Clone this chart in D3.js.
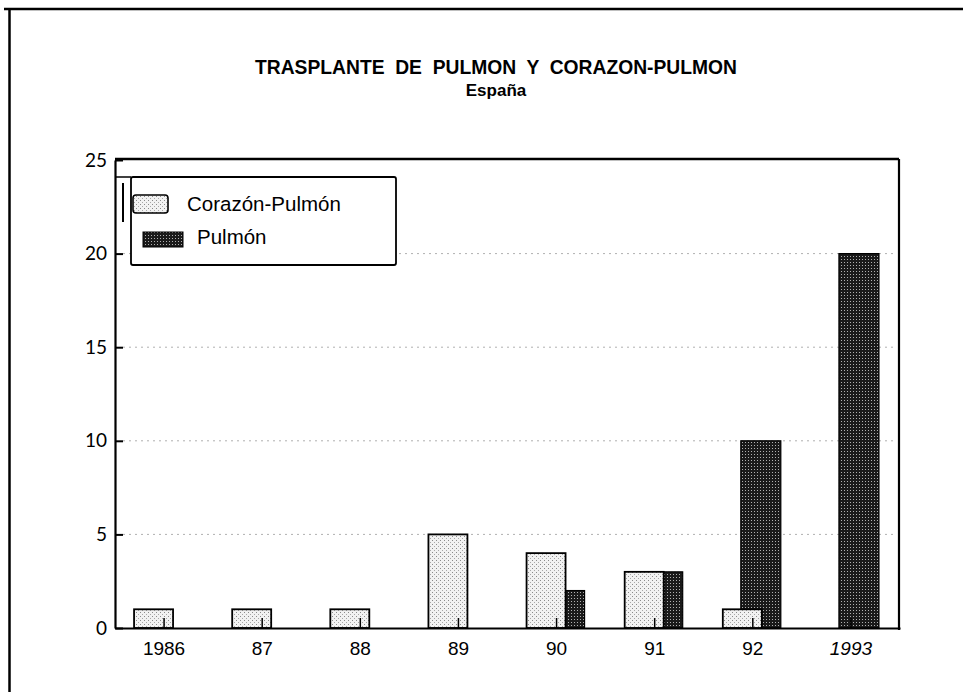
<!DOCTYPE html>
<html>
<head>
<meta charset="utf-8">
<script src="https://cdn.jsdelivr.net/npm/d3@7/dist/d3.min.js"></script>
<style>
  body { margin: 0; background: #fff; }
  svg { display: block; }
</style>
</head>
<body>
<svg width="963" height="692"></svg>
<script>
// chart data
var years = ['1986', '87', '88', '89', '90', '91', '92', '1993'];
var corazonPulmon = [1, 1, 1, 5, 4, 3, 1, 0];
var pulmon = [0, 0, 0, 0, 2, 3, 10, 20];
var yTicks = [0, 5, 10, 15, 20, 25];
var seriesNames = ['Corazón-Pulmón', 'Pulmón'];

var svg = d3.select('svg');

var plot = { l: 115, r: 900, t: 160, b: 628 };

// stipple patterns for the two series
var defs = svg.append('defs');
var light = defs.append('pattern')
    .attr('id', 'lightDots')
    .attr('width', 4).attr('height', 4)
    .attr('patternUnits', 'userSpaceOnUse');
light.append('rect').attr('width', 4).attr('height', 4).attr('fill', '#f2f2f2');
light.append('rect').attr('x', 0).attr('y', 0).attr('width', 1).attr('height', 1).attr('fill', '#8a8a8a');
light.append('rect').attr('x', 2).attr('y', 2).attr('width', 1).attr('height', 1).attr('fill', '#a8a8a8');

var dark = defs.append('pattern')
    .attr('id', 'darkDots')
    .attr('width', 3).attr('height', 3)
    .attr('patternUnits', 'userSpaceOnUse');
dark.append('rect').attr('width', 3).attr('height', 3).attr('fill', '#1a1a1a');
dark.append('rect').attr('x', 1).attr('y', 1).attr('width', 1).attr('height', 1).attr('fill', '#b0b0b0');

// page frame (top and left edge of the scanned page)
svg.append('line').attr('x1', 4).attr('x2', 963).attr('y1', 9).attr('y2', 9)
    .attr('stroke', '#000').attr('stroke-width', 2.5);
svg.append('line').attr('x1', 9.5).attr('x2', 9.5).attr('y1', 9).attr('y2', 692)
    .attr('stroke', '#000').attr('stroke-width', 2.5);

// titles
svg.append('text')
    .attr('x', 496).attr('y', 74)
    .attr('text-anchor', 'middle')
    .attr('textLength', 482)
    .attr('lengthAdjust', 'spacingAndGlyphs')
    .style('white-space', 'pre')
    .style('font-family', '"Liberation Sans", Arial, sans-serif')
    .style('font-weight', 'bold')
    .style('font-size', '20px')
    .text('TRASPLANTE  DE  PULMON  Y  CORAZON-PULMON');

svg.append('text')
    .attr('x', 496).attr('y', 96)
    .attr('text-anchor', 'middle')
    .style('font-family', '"Liberation Sans", Arial, sans-serif')
    .style('font-weight', 'bold')
    .style('font-size', '17px')
    .text('España');

// scales
var x = d3.scaleBand().domain(years).range([plot.l, plot.r]);
var y = d3.scaleLinear().domain([0, 25]).range([plot.b, plot.t]);
var bw = x.bandwidth();

// faint dotted grid
svg.append('g').selectAll('line')
    .data(yTicks.filter(function(d) { return d > 0 && d < 25; }))
    .enter().append('line')
    .attr('x1', plot.l + 8).attr('x2', plot.r - 4)
    .attr('y1', function(d) { return y(d); })
    .attr('y2', function(d) { return y(d); })
    .attr('stroke', '#b0b0b0')
    .attr('stroke-width', 1)
    .attr('stroke-dasharray', '2,4');

var rows = years.map(function(yr, i) {
    return { year: yr, cp: corazonPulmon[i], p: pulmon[i] };
});

// Pulmón bars (drawn first, light bars overlap them)
svg.append('g').selectAll('rect')
    .data(rows.filter(function(d) { return d.p > 0; }))
    .enter().append('rect')
    .attr('x', function(d) { return x(d.year) + bw / 2 - 12; })
    .attr('y', function(d) { return y(d.p); })
    .attr('width', 40)
    .attr('height', function(d) { return y(0) - y(d.p); })
    .attr('fill', 'url(#darkDots)')
    .attr('stroke', '#000')
    .attr('stroke-width', 1.2);

// Corazón-Pulmón bars
svg.append('g').selectAll('rect')
    .data(rows.filter(function(d) { return d.cp > 0; }))
    .enter().append('rect')
    .attr('x', function(d) { return x(d.year) + bw / 2 - 30; })
    .attr('y', function(d) { return y(d.cp); })
    .attr('width', 39)
    .attr('height', function(d) { return y(0) - y(d.cp); })
    .attr('fill', 'url(#lightDots)')
    .attr('stroke', '#000')
    .attr('stroke-width', 1.8);

// axes
var yAxis = svg.append('g')
    .attr('transform', 'translate(' + plot.l + ',0)')
    .call(d3.axisLeft(y).tickValues(yTicks).tickSizeInner(-8).tickSizeOuter(0).tickPadding(10));
yAxis.select('.domain').attr('stroke-width', 2.2);
yAxis.selectAll('.tick line').attr('stroke-width', 2);
yAxis.selectAll('text')
    .style('font-family', 'Lato, "Open Sans", sans-serif')
    .style('font-size', '19px')
    .attr('dx', 2);

var xAxis = svg.append('g')
    .attr('transform', 'translate(0,' + plot.b + ')')
    .call(d3.axisBottom(x).tickSizeInner(-10).tickSizeOuter(0).tickPadding(10));
xAxis.select('.domain').attr('stroke-width', 2);
xAxis.selectAll('.tick line').attr('stroke-width', 1.5);
xAxis.selectAll('text')
    .style('font-family', '"Liberation Sans", Arial, sans-serif')
    .style('font-size', '19px')
    .attr('dy', '0.9em')
    .style('font-style', function(d) { return d === '1993' ? 'italic' : 'normal'; });

// top and right frame of the plot
svg.append('line').attr('x1', plot.l).attr('x2', plot.r - 1)
    .attr('y1', plot.t - 1).attr('y2', plot.t - 1)
    .attr('stroke', '#000').attr('stroke-width', 2.5);
svg.append('line').attr('x1', plot.r - 1).attr('x2', plot.r - 1)
    .attr('y1', plot.t - 1).attr('y2', plot.b + 2)
    .attr('stroke', '#000').attr('stroke-width', 2.2);

// legend
var legend = svg.append('g');
legend.append('line').attr('x1', plot.l).attr('x2', 131).attr('y1', 177).attr('y2', 177)
    .attr('stroke', '#000').attr('stroke-width', 1.5);
legend.append('rect')
    .attr('x', 131).attr('y', 177).attr('width', 265).attr('height', 88)
    .attr('rx', 2)
    .attr('fill', '#fff')
    .attr('stroke', '#000').attr('stroke-width', 1.8);
legend.append('line').attr('x1', 123).attr('x2', 123).attr('y1', 183).attr('y2', 222)
    .attr('stroke', '#000').attr('stroke-width', 2);

legend.append('rect')
    .attr('x', 133).attr('y', 195).attr('width', 35).attr('height', 18)
    .attr('rx', 3)
    .attr('fill', 'url(#lightDots)')
    .attr('stroke', '#000').attr('stroke-width', 1.6);
legend.append('rect')
    .attr('x', 143).attr('y', 232).attr('width', 40).attr('height', 15)
    .attr('fill', 'url(#darkDots)')
    .attr('stroke', '#000').attr('stroke-width', 1);

legend.selectAll('.label')
    .data(seriesNames)
    .enter().append('text')
    .attr('class', 'label')
    .attr('x', function(d, i) { return i === 0 ? 187 : 197; })
    .attr('y', function(d, i) { return i === 0 ? 211 : 244; })
    .style('font-family', '"Liberation Sans", Arial, sans-serif')
    .style('font-size', '20.5px')
    .text(function(d) { return d; });
</script>
</body>
</html>
